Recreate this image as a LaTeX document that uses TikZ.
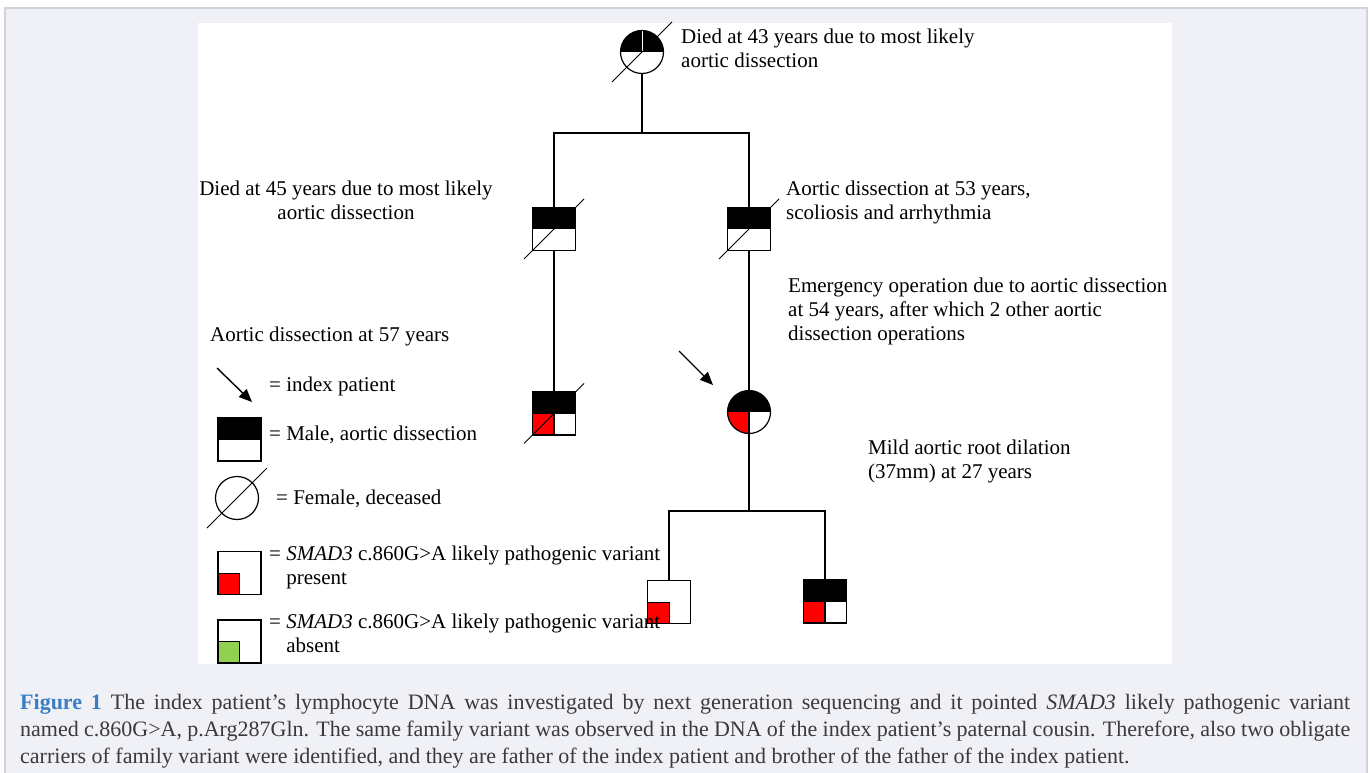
\documentclass[tikz,border=0pt]{standalone}
\usepackage{fontspec}
\setmainfont{Liberation Serif}
\usetikzlibrary{arrows.meta}
\definecolor{panel}{HTML}{F0F1F7}
\definecolor{frameline}{HTML}{D2D3D8}
\definecolor{capblue}{HTML}{3A7EC2}
\definecolor{captext}{HTML}{3A3A3A}
\definecolor{absentgreen}{HTML}{92D050}
\tikzset{
  ind/.style={draw,line width=1.2pt,inner sep=0pt,minimum size=43pt,fill=white},
  sq/.style={ind,rectangle},
  ci/.style={ind,circle},
  blacktop/.style={path picture={\fill[black] (path picture bounding box.north west) rectangle (path picture bounding box.east);}},
  blacktopw/.style={path picture={\fill[black] (path picture bounding box.north west) rectangle (path picture bounding box.east);
      \draw[white,line width=1pt] (path picture bounding box.center) -- (path picture bounding box.north);}},
  blackred/.style={path picture={\fill[black] (path picture bounding box.north west) rectangle (path picture bounding box.east);
      \fill[red] (path picture bounding box.south west) rectangle (path picture bounding box.center);
      \draw[line width=1.2pt] (path picture bounding box.center) -- (path picture bounding box.south);}},
  redcorner/.style={path picture={\filldraw[fill=red,line width=1pt] (path picture bounding box.south west) rectangle (path picture bounding box.center);}},
  greencorner/.style={path picture={\filldraw[fill=absentgreen,line width=1pt] (path picture bounding box.south west) rectangle (path picture bounding box.center);}},
  link/.style={line width=2.7pt},
  slash/.style={line width=1pt},
  pointer/.style={line width=1.4pt,-{Triangle[length=13pt,width=11pt]}},
  note/.style={font=\fontsize{21}{24}\selectfont,align=left,anchor=north west,inner sep=0pt},
  caption/.style={font=\fontsize{22}{27}\selectfont,text=captext,anchor=base west,inner sep=0pt},
}
\begin{document}
\begin{tikzpicture}[x=1pt,y=-1pt]
\useasboundingbox (0,0) rectangle (1371,773);
\draw[frameline,fill=panel,line width=1.2pt] (5,8) rectangle (1367,800);
\fill[white] (198,23) rectangle (1172,664);

% pedigree
\node[ci,blacktopw] (gm) at (642,52) {};
\node[sq,blacktop] (u1) at (554,229) {};
\node[sq,blacktop] (u2) at (749,229) {};
\node[sq,blackred] (c1) at (554,413.5) {};
\node[ci,blackred] (ip) at (749,412) {};
\node[sq,redcorner] (k1) at (669,602) {};
\node[sq,blackred] (k2) at (825,601.5) {};
\coordinate (s1) at (642,133);
\coordinate (s2) at (749,511);
\draw[link] (gm) -- (s1);
\draw[link] (u1.north) |- (s1) -| (u2.north);
\draw[link] (u1) -- (c1);
\draw[link] (u2) -- (ip);
\draw[link] (ip) -- (s2);
\draw[link] (k1.north) |- (s2) -| (k2.north);
\coordinate (ia) at (679,351);
\draw[pointer] (ia) -- ++(34,34);

% legend
\coordinate (la) at (217,368);
\draw[pointer] (la) -- ++(35,34);
\node[sq,blacktop] (lm) at (239.5,439.5) {};
\node[ci] (lf) at (237,498) {};
\node[sq,redcorner] (lr) at (239.5,573) {};
\node[sq,greencorner] (lg) at (239.5,641.5) {};
\foreach \n in {gm,u1,u2,c1,lf}
  \draw[slash] ([shift={(-30,30)}]\n.center) -- ([shift={(30,-30)}]\n.center);

% texts
\node[note] (tgm) at (681,29) {Died at 43 years due to most likely\\aortic dissection};
\node[note,align=center,anchor=north] (tu1) at (346,181) {Died at 45 years due to most likely\\aortic dissection};
\node[note] (tu2) at (786,181) {Aortic dissection at 53 years,\\scoliosis and arrhythmia};
\node[note] (tip) at (788,278) {Emergency operation due to aortic dissection\\at 54 years, after which 2 other aortic\\dissection operations};
\node[note] (tc1) at (210,327) {Aortic dissection at 57 years};
\node[note] (tk2) at (868,440) {Mild aortic root dilation\\(37mm) at 27 years};
\node[note] (lta) at (269,377) {= index patient};
\node[note] (ltm) at (269,426) {= Male, aortic dissection};
\node[note] (ltf) at (276,490) {= Female, deceased};
\node[note] (ltr) at (269,546) {= \textit{SMAD3} c.860G>A likely pathogenic variant\\\hphantom{=}\ present};
\node[note] (ltg) at (269,614) {= \textit{SMAD3} c.860G>A likely pathogenic variant\\\hphantom{=}\ absent};

% caption
\node[caption] (cap1) at (20,709) {\makebox[1330pt][s]{\textcolor{capblue}{\textbf{Figure 1}} The index patient’s lymphocyte DNA was investigated by next generation sequencing and it pointed \textit{SMAD3} likely pathogenic variant}};
\node[caption] (cap2) at (20,736) {\makebox[1330pt][s]{named c.860G>A, p.Arg287Gln. The same family variant was observed in the DNA of the index patient’s paternal cousin. Therefore, also two obligate}};
\node[caption] (cap3) at (20,763) {carriers of family variant were identified, and they are father of the index patient and brother of the father of the index patient.};
\end{tikzpicture}
\end{document}
